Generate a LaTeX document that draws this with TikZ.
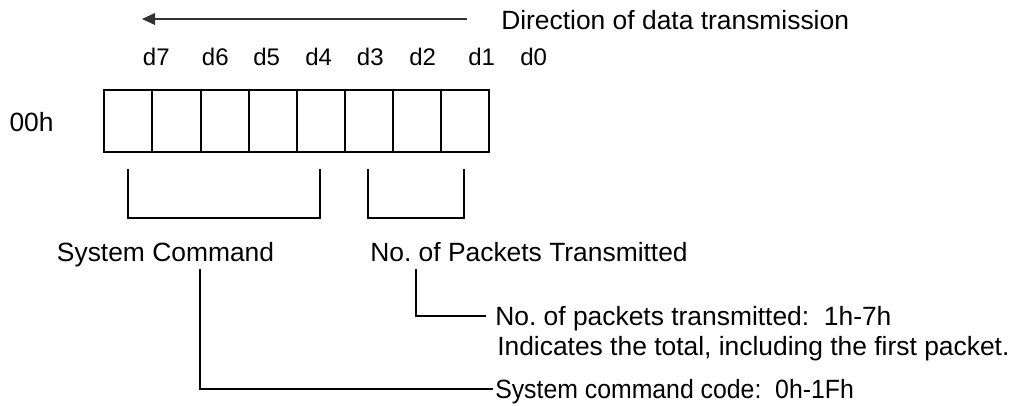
\documentclass[tikz,border=0pt]{standalone}
\usepackage{fontspec}
\setmainfont{Liberation Sans}
\usetikzlibrary{arrows.meta}
\frenchspacing
\begin{document}
\begin{tikzpicture}[x=0.75pt,y=-0.75pt,
  lbl/.style={font=\fontsize{19.8}{23}\selectfont, inner sep=0pt, anchor=base west},
  bitlbl/.style={font=\fontsize{18}{22}\selectfont, inner sep=0pt, anchor=base west},
  cell/.style={draw, line width=1.5pt, minimum width=36.08pt, minimum height=46.8pt, inner sep=0pt, anchor=north west},
  brk/.style={line width=1.2pt},
  conn/.style={line width=1.1pt},
  arr/.style={line width=0.9pt, draw=black!80, -{Triangle[length=9.75pt,width=8.8pt]}},
]
\useasboundingbox (0,0) rectangle (1018,405);
% direction arrow
\coordinate (arrS) at (467,19);
\coordinate (arrE) at (142,19);
\draw[arr] (arrS) -- (arrE);
\node[lbl] (dir) at (501,29) {Direction of data transmission};
% bit labels
\node[bitlbl] (b7) at (142.7,65) {d7};
\node[bitlbl] (b6) at (201.7,65) {d6};
\node[bitlbl] (b5) at (253,65) {d5};
\node[bitlbl] (b4) at (305,65) {d4};
\node[bitlbl] (b3) at (356.7,65) {d3};
\node[bitlbl] (b2) at (409,65) {d2};
\node[bitlbl] (b1) at (468,65) {d1};
\node[bitlbl] (b0) at (520,65) {d0};
% address
\node[lbl] (addr) at (9.3,131.5) {00h};
% cells
\foreach \i [count=\k from 0] in {7,6,5,4,3,2,1,0}
  \node[cell] (c\i) at ({103.3+48.1*\k},89) {};
% brackets
\draw[brk] (128,169) |- (320,218) -- (320,169);
\draw[brk] (368,169) |- (464,218) -- (464,169);
% field names
\node[lbl] (sc) at (56.7,261) {System Command};
\node[lbl] (np) at (370,261) {No. of Packets Transmitted};
% packets description
\coordinate (npTop) at (416,269);
\coordinate (npEnd) at (486,316);
\draw[conn] (npTop) |- (npEnd);
\node[lbl] (npc) at (495,325) {No. of packets transmitted:\ \ 1h-7h};
\node[lbl] (ind) at (497,355) {Indicates the total, including the first packet.};
% system command description
\coordinate (scTop) at (200,269);
\coordinate (scEnd) at (493,389);
\draw[conn] (scTop) |- (scEnd);
\node[lbl] (code) at (495,398) {\scalebox{0.94}[1]{System command code:\ \ 0h-1Fh}};
\end{tikzpicture}
\end{document}
